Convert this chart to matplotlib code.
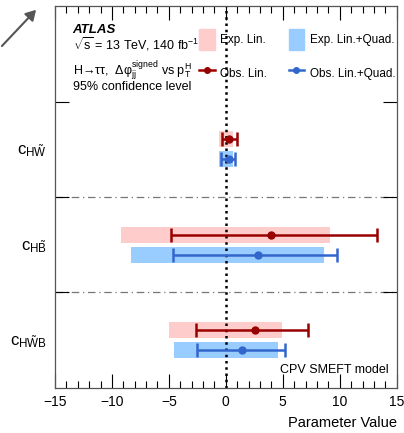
import matplotlib
matplotlib.use("Agg")
import matplotlib.pyplot as plt
import numpy as np
from matplotlib.patches import Patch, FancyArrowPatch
from matplotlib.lines import Line2D
from matplotlib.ticker import MultipleLocator

plt.rcParams['font.family'] = ['Liberation Sans', 'DejaVu Sans']
plt.rcParams['mathtext.fontset'] = 'custom'
plt.rcParams['mathtext.rm'] = 'Liberation Sans'
plt.rcParams['mathtext.it'] = 'Liberation Sans:italic'
plt.rcParams['mathtext.bf'] = 'Liberation Sans:bold'

# Wilson coefficients, top to bottom
params = [r'$\mathregular{c}_{\mathregular{H\tilde{W}}}$',
          r'$\mathregular{c}_{\mathregular{H\tilde{B}}}$',
          r'$\mathregular{c}_{\mathregular{H\tilde{W}B}}$']

# expected 95% CL intervals
exp_lin_lo = [-0.64, -9.22, -4.96]
exp_lin_hi = [0.62, 9.17, 4.94]
exp_quad_lo = [-0.64, -8.34, -4.58]
exp_quad_hi = [0.67, 8.58, 4.59]

# observed best fit + 95% CL intervals
obs_lin = [0.26, 4.0, 2.54]
obs_lin_lo = [-0.35, -4.84, -2.65]
obs_lin_hi = [0.96, 13.31, 7.18]
obs_quad = [0.28, 2.8, 1.46]
obs_quad_lo = [-0.4, -4.6, -2.5]
obs_quad_hi = [0.82, 9.75, 5.2]

c_exp_lin = '#ffcccc'
c_exp_quad = '#99ccff'
c_obs_lin = '#990000'
c_obs_quad = '#3366cc'

fig = plt.figure(figsize=(4.04, 4.33), dpi=100)
ax = fig.add_axes([0.136, 0.104, 0.846, 0.882])

n = len(params)
ycent = np.arange(n)[::-1] + 0.5
off = 0.104
bh = 0.17

def interval(lo, hi):
    lo = np.array(lo); hi = np.array(hi)
    return lo, hi - lo

lo, w = interval(exp_lin_lo, exp_lin_hi)
ax.barh(ycent + off, w, left=lo, height=bh, color=c_exp_lin, zorder=1)
lo, w = interval(exp_quad_lo, exp_quad_hi)
ax.barh(ycent - off, w, left=lo, height=bh, color=c_exp_quad, zorder=1)

ax.axvline(0, color='black', ls=(0, (1, 1.5)), lw=1.8, zorder=2)

for y in [1, 2]:
    ax.axhline(y, color='#777777', ls=(0, (6, 3, 1, 3)), lw=0.9, zorder=0)

for c, l, h, col, dy in [(obs_lin, obs_lin_lo, obs_lin_hi, c_obs_lin, off),
                          (obs_quad, obs_quad_lo, obs_quad_hi, c_obs_quad, -off)]:
    c = np.array(c)
    xerr = np.vstack([c - np.array(l), np.array(h) - c])
    ax.errorbar(c, ycent + dy, xerr=xerr, fmt='o', color=col, ms=5,
                lw=1.8, capsize=5, capthick=1.8, zorder=3)

ax.set_xlim(-15, 15)
ax.set_ylim(0, 4)
ax.xaxis.set_major_locator(MultipleLocator(5))
ax.xaxis.set_minor_locator(MultipleLocator(1))
ax.tick_params(axis='x', which='both', direction='in', top=True, labelsize=10, pad=5)
ax.tick_params(axis='x', which='major', length=10, width=0.8)
ax.tick_params(axis='x', which='minor', length=5, width=0.8)
ax.set_yticks([1, 2, 3])
ax.set_yticklabels([])
ax.set_yticks(ycent, params, minor=True)
ax.tick_params(axis='y', which='major', direction='in', right=True, length=10, width=0.8)
ax.tick_params(axis='y', which='minor', length=0, labelsize=12, pad=6)
for s in ax.spines.values():
    s.set_color('#555555')
    s.set_linewidth(0.9)

ax.set_xlabel('Parameter Value', loc='right', fontsize=10.5, labelpad=5)

ax.text(0.052, 0.929, 'ATLAS', transform=ax.transAxes, fontsize=9.5,
        fontweight='bold', fontstyle='italic')
ax.text(0.052, 0.885, r'$\sqrt{\mathregular{s}}$ = 13 TeV, 140 fb$^{-1}$',
        transform=ax.transAxes, fontsize=9)
ax.text(0.052, 0.819, 'H\u2192\u03c4\u03c4,  \u0394\u03c6$_{\\mathregular{jj}}^{\\mathregular{signed}}$ vs p$_{\\mathregular{T}}^{\\mathregular{H}}$',
        transform=ax.transAxes, fontsize=9)
ax.text(0.052, 0.781, '95% confidence level', transform=ax.transAxes, fontsize=9)
ax.text(0.975, 0.04, 'CPV SMEFT model', transform=ax.transAxes, fontsize=9, ha='right')

handles = [Patch(color=c_exp_lin, label='Exp. Lin.'),
           Line2D([], [], color=c_obs_lin, marker='o', ms=4, lw=1.8, label='Obs. Lin.'),
           Patch(color=c_exp_quad, label='Exp. Lin.+Quad.'),
           Line2D([], [], color=c_obs_quad, marker='o', ms=4, lw=1.8, label='Obs. Lin.+Quad.')]
ax.legend(handles=handles, ncol=2, loc='upper left', bbox_to_anchor=(0.422, 0.94),
          frameon=False, fontsize=8.5, handlelength=1.3, handleheight=2.4,
          handletextpad=0.5, columnspacing=1.8, labelspacing=1.05, borderaxespad=0,
          borderpad=0)

fig.add_artist(FancyArrowPatch((0.0, 0.889), (0.094, 0.982), transform=fig.transFigure,
                               arrowstyle='-|>,head_length=6,head_width=3.5',
                               color='#555555', lw=1.5))

fig.savefig('out.png', dpi=100)
